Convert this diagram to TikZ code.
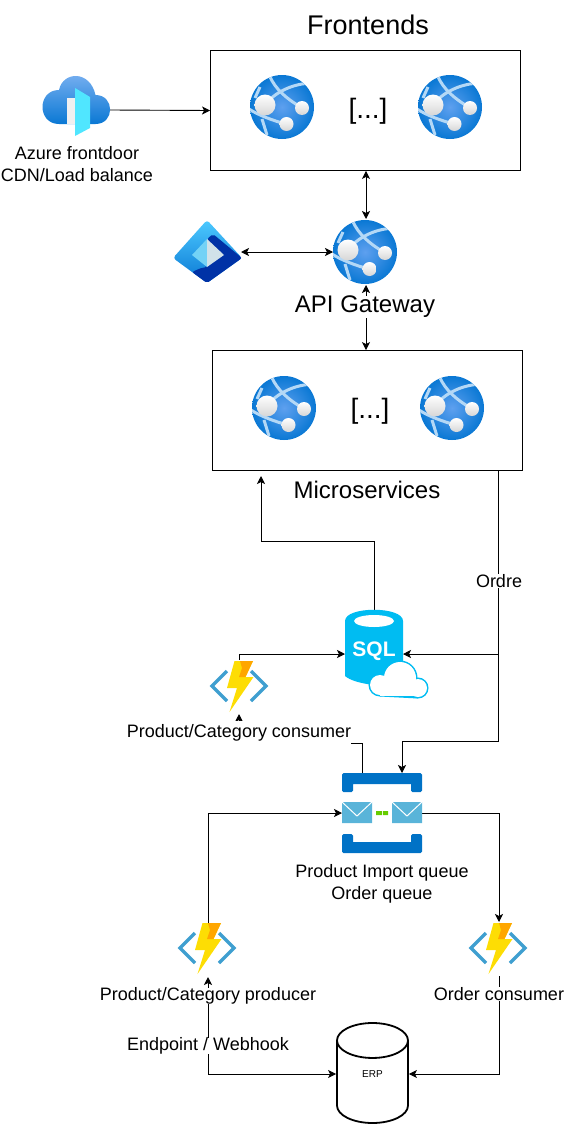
\documentclass[tikz,border=0pt]{standalone}
\usepackage{fontspec}
\setmainfont{Liberation Sans}
\usepackage{tikz}
\usetikzlibrary{arrows.meta,shapes.geometric}
\pgfdeclarelayer{edgelayer}
\pgfdeclarelayer{nodelayer}
\pgfsetlayers{edgelayer,nodelayer,main}
\definecolor{globein}{HTML}{5EA0EF}
\definecolor{globeout}{HTML}{0A78D4}
\definecolor{band}{HTML}{B4D8F6}
\definecolor{chevron}{HTML}{3F9FD0}
\definecolor{queueblue}{HTML}{0072C6}
\definecolor{mail}{HTML}{59B4D9}
\definecolor{sqlblue}{HTML}{00BCF2}
\definecolor{clouddoor}{HTML}{50E6FF}
\tikzstyle{edge}=[draw=black, line width=0.9pt, -{Stealth[length=8pt,width=8pt,inset=2pt]}]
\tikzstyle{biedge}=[draw=black, line width=0.9pt, {Stealth[length=8pt,width=8pt,inset=2pt]}-{Stealth[length=8pt,width=8pt,inset=2pt]}]
\tikzstyle{box}=[rectangle, draw=black, line width=0.9pt, minimum width=310pt, minimum height=120pt, inner sep=0pt]
\tikzstyle{icon}=[rectangle, inner sep=0pt, outer sep=0pt]
\tikzstyle{caption}=[fill=white, align=center, inner sep=0pt, font=\fontsize{18}{22}\selectfont]
\tikzstyle{bigcaption}=[caption, font=\fontsize{24}{28}\selectfont]
\tikzset{
  pics/webapp/.style={code={
    \begin{scope}
      \clip (0,0) circle (32);
      \shade [inner color=globein, outer color=globeout] (0,0) circle (32);
      \draw [band, line width=3pt] (-12,-30) .. controls (-6,-18) and (2,-10) .. (20,1);
      \draw [band, line width=3pt] (-17,-2) .. controls (-8,-14) and (10,-24) .. (32,-24);
      \draw [band, line width=3pt] (-33,2) .. controls (-24,8) and (-8,14) .. (4,17);
      \draw [band, line width=3pt] (-22,-20) -- (-27,-9);
      \draw [band, line width=3pt] (-20,12) -- (-15,28);
    \end{scope}
    \shade [top color=white, middle color=white, bottom color=black!16] (-17,-2) circle (10.5);
    \shade [top color=white, middle color=white, bottom color=black!16] (20,1) circle (7);
    \shade [top color=white, middle color=white, bottom color=black!16] (4.5,17) circle (7);
  }},
  pics/funcapp/.style={code={
    \draw [chevron, line width=3.5pt] (-12,-15) -- (-27,0) -- (-12,15);
    \draw [chevron, line width=3.5pt] (12,-15) -- (27,0) -- (12,15);
    \fill [yellow!80!orange] (-4.5,-25) -- (14,-25) -- (6.5,-9) -- (14.5,-9) -- (-9.5,26) -- (-2,2) -- (-12,2) -- cycle;
    \fill [orange!70!yellow] (1,-25) -- (14,-25) -- (6.5,-9) -- (0,-9) -- (3,-18) -- cycle;
  }},
  pics/sqlcloud/.style={code={
    \fill [sqlblue] (-29,-33) -- (-29,22) .. controls (-20,30) and (10,34) .. (29,30) -- (29,-33) .. controls (29,-48) and (-29,-48) .. (-29,-33) -- cycle;
    \fill [white] (0,-33) ellipse (20 and 6);
    \draw [sqlblue, line width=3pt] (6,31) circle (10);
    \draw [sqlblue, line width=3pt] (26,24) circle (16);
    \draw [sqlblue, line width=3pt] (44,34) circle (9);
    \draw [sqlblue, line width=3pt] (6,41) -- (44,43);
    \fill [white] (6,31) circle (10);
    \fill [white] (26,24) circle (16);
    \fill [white] (44,34) circle (9);
    \fill [white] (6,33) rectangle (44,42);
  }},
  pics/azurefd/.style={code={
    \shade [top color=globein!80!white, bottom color=globeout] (-17,14) .. controls (-39,14) and (-39,-20) .. (-17,-20) .. controls (-13,-39) and (14,-40) .. (19.5,-15) .. controls (39,-15) and (39,14) .. (19.5,14) -- cycle;
    \fill [black!6] (-9,-12) rectangle (0,14);
    \fill [clouddoor] (-1,-22) -- (14,-13) -- (14,18) -- (-1,26) -- cycle;
  }},
  pics/entra/.style={code={
    \shade [top color=cyan!70!blue!70!white, bottom color=globeout, rounded corners=3pt] (-34,6) -- (0,-32) -- (35,6) -- (0,31) -- cycle;
    \fill [blue!70!cyan!65!black, rounded corners=2pt] (6,-18) -- (35,6) -- (0,31) -- (-15,20) .. controls (-6,16) .. (0,15) -- (0,-13) -- cycle;
    \fill [cyan!55!white] (-15,3) -- (0,-13) -- (0,15) -- cycle;
    \fill [cyan!55!black!20!white] (0,-13) -- (17,3) -- (0,15) -- cycle;
  }},
  pics/queuebus/.style={code={
    \fill [queueblue, rounded corners=1.5pt] (-40,-40) rectangle (40,-29) (-40,-40) rectangle (-29,-21) (29,-40) rectangle (40,-21);
    \fill [queueblue, rounded corners=1.5pt] (-40,29) rectangle (40,40) (-40,21) rectangle (-29,40) (29,21) rectangle (40,40);
    \fill [mail] (-40,-11) rectangle (-10,10) (10,-11) rectangle (40,10);
    \draw [white, line width=1pt] (-40,-11) -- (-25,3) -- (-10,-11) (10,-11) -- (25,3) -- (40,-11);
    \fill [green!50!yellow!80!black] (-6,-2) rectangle (0,2) (1,-2) rectangle (6,2);
  }}
}
\begin{document}
\begin{tikzpicture}[x=1pt, y=-1pt]
	\useasboundingbox (0,0) rectangle (567,1124);
	\begin{pgfonlayer}{nodelayer}
		\node [style=box] (frontends) at (365.5,110.5) {};
		\node [style=box] (microservices) at (367.5,410.5) {};
		\node [style=bigcaption, font=\fontsize{27}{30}\selectfont] (frontendstitle) at (368,25) {Frontends};
		\node [style=bigcaption] (gatewaytitle) at (365,307) {API Gateway};
		\node [style=bigcaption] (microtitle) at (367,490) {Microservices};
		\node [style=bigcaption, font=\fontsize{28}{30}\selectfont, fill=none] (fedots) at (368,111) {[...]};
		\node [style=bigcaption, font=\fontsize{28}{30}\selectfont, fill=none] (msdots) at (370,411) {[...]};
		\node [style=icon, minimum width=64pt, minimum height=64pt] (fe1) at (282,107) {};
		\node [style=icon, minimum width=64pt, minimum height=64pt] (fe2) at (450,107) {};
		\node [style=icon, minimum width=64pt, minimum height=64pt] (ms1) at (284,408) {};
		\node [style=icon, minimum width=64pt, minimum height=64pt] (ms2) at (452,408) {};
		\node [style=icon, minimum width=66pt, minimum height=66pt] (gateway) at (366,252) {};
		\node [style=icon, minimum width=68pt, minimum height=60pt] (frontdoor) at (76,110) {};
		\node [style=icon, minimum width=68pt, minimum height=60pt] (entra) at (207,252) {};
		\node [style=icon, minimum width=58pt, minimum height=88pt] (sqldb) at (374,654) {};
		\node [style=icon, minimum width=57pt, minimum height=54pt] (catfn) at (239,687) {};
		\node [style=icon, minimum width=57pt, minimum height=54pt] (prodfn) at (208,950) {};
		\node [style=icon, minimum width=57pt, minimum height=54pt] (orderfn) at (499,949) {};
		\node [style=icon, minimum width=80pt, minimum height=80pt] (queue) at (382,813) {};
		\pic at (282,107) {webapp};
		\pic at (450,107) {webapp};
		\pic at (284,408) {webapp};
		\pic at (452,408) {webapp};
		\pic at (365,252) {webapp};
		\pic at (frontdoor) {azurefd};
		\pic at (entra) {entra};
		\pic at (sqldb) {sqlcloud};
		\node [style=icon, text=white, font=\bfseries\fontsize{21}{22}\selectfont] (sqltext) at (374,651) {SQL};
		\pic at (239,686) {funcapp};
		\pic at (207,948) {funcapp};
		\pic at (498,948) {funcapp};
		\pic at (queue) {queuebus};
		\node [cylinder, anchor=shape center, shape border rotate=90, aspect=1.7, draw=black, line width=1.8pt, fill=white, minimum width=71pt, minimum height=100pt, inner sep=0pt, font=\fontsize{10}{12}\selectfont] (erp) at (372.5,1073) {\phantom{ERP}};
		\node [style=icon, font=\fontsize{10}{12}\selectfont] (erptext) at (372.5,1074) {ERP};
		\node [style=caption, fill=none] (frontdoorlabel) at (77,164) {Azure frontdoor\\CDN/Load balance};
		\node [style=caption, minimum height=24pt] (catlabel) at (239,733) {Product/Category consumer};
		\node [style=caption] (queuelabel) at (382,884) {Product Import queue\\Order queue};
		\node [style=caption] (prodlabel) at (208,996) {Product/Category producer};
		\node [style=caption] (orderlabel) at (499,994) {Order consumer};
		\node [style=caption] (endpointlabel) at (208,1046) {Endpoint / Webhook};
		\node [style=caption] (ordrelabel) at (499,581) {Ordre};
		\coordinate (msout) at (498,470.5);
		\coordinate (msin) at (261,476);
		\coordinate (sqlup) at (374,541);
		\coordinate (queuebend) at (498,741);
		\coordinate (queuein) at (402,773);
		\coordinate (queueout) at (362,773);
		\coordinate (catbend) at (362,743);
	\end{pgfonlayer}
	\begin{pgfonlayer}{edgelayer}
		\draw [style=edge] (frontdoor.east) to (frontends.west);
		\draw [style=biedge] (frontends.south -| gateway.north) to (gateway.north);
		\draw [style=biedge] (gateway.west) to (entra.east);
		\draw [style=biedge] (gateway.south) to (gateway.south |- microservices.north);
		\draw [style=edge] (sqldb.north) -- (sqlup) -| (msin);
		\draw [style=edge] (msout) |- (sqldb.east);
		\draw [style=edge] (msout) -- (queuebend) -| (queuein);
		\draw [style=edge] (catfn.north) |- (sqldb.west);
		\draw [style=edge] (queueout) -- (catbend) -| (catfn.south);
		\draw [style=edge] (prodfn.north) |- (queue.west);
		\draw [style=edge] (queue.east) -| (orderfn.north);
		\draw [style=biedge] (erp.west |- erptext) -| (prodfn.south);
		\draw [style=edge] (orderfn.south) |- (erp.east |- erptext);
	\end{pgfonlayer}
\end{tikzpicture}
\end{document}
